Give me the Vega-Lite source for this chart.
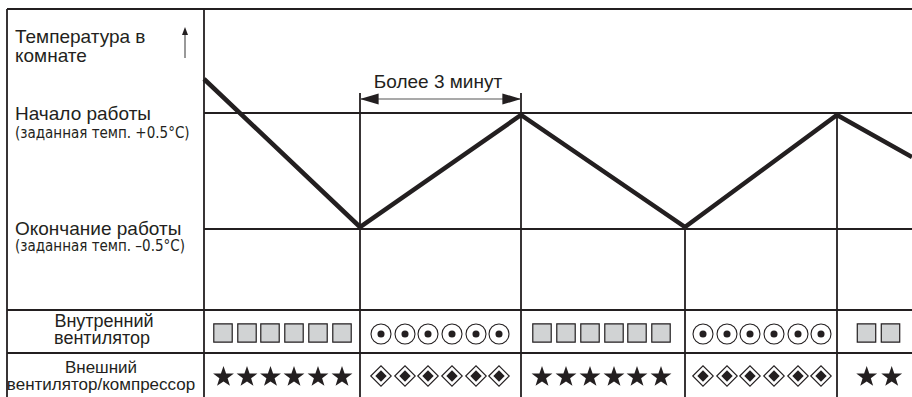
{
  "$schema": "https://vega.github.io/schema/vega-lite/v6.json",
  "width": 912,
  "height": 397,
  "autosize": {"type": "none"},
  "padding": 0,
  "background": "white",
  "config": {"view": {"stroke": null}},
  "datasets": {
    "rules": [
      {"x": 7, "x2": 912, "y": 9, "y2": 9},
      {"x": 7, "x2": 7, "y": 9, "y2": 397},
      {"x": 204, "x2": 204, "y": 9, "y2": 397},
      {"x": 204, "x2": 912, "y": 113, "y2": 113},
      {"x": 204, "x2": 912, "y": 229, "y2": 229},
      {"x": 7, "x2": 912, "y": 310, "y2": 310},
      {"x": 7, "x2": 912, "y": 353, "y2": 353},
      {"x": 360, "x2": 360, "y": 93, "y2": 397},
      {"x": 521, "x2": 521, "y": 93, "y2": 397},
      {"x": 685, "x2": 685, "y": 229, "y2": 397},
      {"x": 837, "x2": 837, "y": 113, "y2": 397}
    ],
    "temp": [
      {"t": 204, "v": 79},
      {"t": 360, "v": 227},
      {"t": 521, "v": 115},
      {"t": 685, "v": 227},
      {"t": 837, "v": 115},
      {"t": 912, "v": 157}
    ],
    "shafts": [
      {"x": 360, "x2": 521, "y": 99, "y2": 99},
      {"x": 185, "x2": 185, "y": 34, "y2": 58}
    ],
    "heads": [
      {"dir": "left", "x": 369.3, "y": 99},
      {"dir": "right", "x": 511.7, "y": 99},
      {"dir": "up", "x": 185, "y": 31}
    ],
    "symbols": [
      {"kind": "square", "x": 223, "y": 333},
      {"kind": "square", "x": 247, "y": 333},
      {"kind": "square", "x": 270, "y": 333},
      {"kind": "square", "x": 294, "y": 333},
      {"kind": "square", "x": 318, "y": 333},
      {"kind": "square", "x": 342, "y": 333},
      {"kind": "circle", "x": 381, "y": 334},
      {"kind": "circle", "x": 405, "y": 334},
      {"kind": "circle", "x": 428, "y": 334},
      {"kind": "circle", "x": 452, "y": 334},
      {"kind": "circle", "x": 476, "y": 334},
      {"kind": "circle", "x": 499, "y": 334},
      {"kind": "square", "x": 542, "y": 333},
      {"kind": "square", "x": 566, "y": 333},
      {"kind": "square", "x": 590, "y": 333},
      {"kind": "square", "x": 614, "y": 333},
      {"kind": "square", "x": 637, "y": 333},
      {"kind": "square", "x": 661, "y": 333},
      {"kind": "circle", "x": 703, "y": 334},
      {"kind": "circle", "x": 727, "y": 334},
      {"kind": "circle", "x": 750, "y": 334},
      {"kind": "circle", "x": 774, "y": 334},
      {"kind": "circle", "x": 798, "y": 334},
      {"kind": "circle", "x": 821, "y": 334},
      {"kind": "square", "x": 866.5, "y": 333},
      {"kind": "square", "x": 890.5, "y": 333},
      {"kind": "star", "x": 223.5, "y": 377},
      {"kind": "star", "x": 247, "y": 377},
      {"kind": "star", "x": 270.5, "y": 377},
      {"kind": "star", "x": 294, "y": 377},
      {"kind": "star", "x": 318, "y": 377},
      {"kind": "star", "x": 342, "y": 377},
      {"kind": "diamond", "x": 381, "y": 376},
      {"kind": "diamond", "x": 405, "y": 376},
      {"kind": "diamond", "x": 428, "y": 376},
      {"kind": "diamond", "x": 452, "y": 376},
      {"kind": "diamond", "x": 476, "y": 376},
      {"kind": "diamond", "x": 499, "y": 376},
      {"kind": "star", "x": 542, "y": 377},
      {"kind": "star", "x": 566, "y": 377},
      {"kind": "star", "x": 590, "y": 377},
      {"kind": "star", "x": 614, "y": 377},
      {"kind": "star", "x": 637, "y": 377},
      {"kind": "star", "x": 661, "y": 377},
      {"kind": "diamond", "x": 703, "y": 376},
      {"kind": "diamond", "x": 727, "y": 376},
      {"kind": "diamond", "x": 750, "y": 376},
      {"kind": "diamond", "x": 774, "y": 376},
      {"kind": "diamond", "x": 798, "y": 376},
      {"kind": "diamond", "x": 821, "y": 376},
      {"kind": "star", "x": 866.7, "y": 377},
      {"kind": "star", "x": 891.7, "y": 377}
    ],
    "labels": [
      {"kind": "big", "x": 15, "y": 43, "text": "Температура в"},
      {"kind": "big", "x": 15, "y": 62, "text": "комнате"},
      {"kind": "big", "x": 15, "y": 120, "text": "Начало работы"},
      {"kind": "small", "x": 15, "y": 138, "text": "(заданная темп. +0.5°C)"},
      {"kind": "big", "x": 15, "y": 235, "text": "Окончание работы"},
      {"kind": "small", "x": 15, "y": 251, "text": "(заданная темп. –0.5°C)"},
      {"kind": "mid", "x": 438, "y": 88, "text": "Более 3 минут"},
      {"kind": "row1", "x": 104, "y": 327, "text": "Внутренний"},
      {"kind": "row1", "x": 102, "y": 344, "text": "вентилятор"},
      {"kind": "row2", "x": 101, "y": 373, "text": "Внешний"},
      {"kind": "row2", "x": 101, "y": 390, "text": "вентилятор/компрессор"}
    ]
  },
  "layer": [
    {
      "data": {"name": "rules"},
      "mark": {"type": "rule", "color": "#231f20", "strokeWidth": 1.8},
      "encoding": {
        "x": {"field": "x", "type": "quantitative", "scale": {"domain": [0, 912], "nice": false, "zero": false}, "axis": null},
        "x2": {"field": "x2"},
        "y": {"field": "y", "type": "quantitative", "scale": {"domain": [397, 0], "nice": false, "zero": false}, "axis": null},
        "y2": {"field": "y2"}
      }
    },
    {
      "data": {"name": "shafts"},
      "mark": {"type": "rule", "color": "#555555", "strokeWidth": 1.2},
      "encoding": {
        "x": {"field": "x", "type": "quantitative"},
        "x2": {"field": "x2"},
        "y": {"field": "y", "type": "quantitative"},
        "y2": {"field": "y2"}
      }
    },
    {
      "data": {"name": "heads"},
      "transform": [{"filter": "datum.dir === 'left'"}],
      "mark": {"type": "point", "filled": true, "color": "#231f20", "opacity": 1, "size": 350, "shape": "M-1,0L1,-0.6L1,0.6Z"},
      "encoding": {
        "x": {"field": "x", "type": "quantitative"},
        "y": {"field": "y", "type": "quantitative"}
      }
    },
    {
      "data": {"name": "heads"},
      "transform": [{"filter": "datum.dir === 'right'"}],
      "mark": {"type": "point", "filled": true, "color": "#231f20", "opacity": 1, "size": 350, "shape": "M1,0L-1,-0.6L-1,0.6Z"},
      "encoding": {
        "x": {"field": "x", "type": "quantitative"},
        "y": {"field": "y", "type": "quantitative"}
      }
    },
    {
      "data": {"name": "heads"},
      "transform": [{"filter": "datum.dir === 'up'"}],
      "mark": {"type": "point", "filled": true, "color": "#231f20", "opacity": 1, "size": 64, "shape": "M0,-1L0.75,1L-0.75,1Z"},
      "encoding": {
        "x": {"field": "x", "type": "quantitative"},
        "y": {"field": "y", "type": "quantitative"}
      }
    },
    {
      "data": {"name": "temp"},
      "mark": {"type": "line", "color": "#231f20", "strokeWidth": 4.5, "strokeJoin": "miter", "strokeCap": "butt", "clip": true},
      "encoding": {
        "x": {"field": "t", "type": "quantitative"},
        "y": {"field": "v", "type": "quantitative"}
      }
    },
    {
      "data": {"name": "symbols"},
      "transform": [{"filter": "datum.kind === 'square'"}],
      "mark": {"type": "point", "shape": "square", "size": 340, "filled": true, "fill": "#d1d3d4", "stroke": "#231f20", "strokeWidth": 1.2, "opacity": 1, "fillOpacity": 1},
      "encoding": {
        "x": {"field": "x", "type": "quantitative"},
        "y": {"field": "y", "type": "quantitative"}
      }
    },
    {
      "data": {"name": "symbols"},
      "transform": [{"filter": "datum.kind === 'circle'"}],
      "mark": {"type": "point", "shape": "circle", "size": 400, "filled": true, "fill": "white", "stroke": "#231f20", "strokeWidth": 1.1, "opacity": 1, "fillOpacity": 1},
      "encoding": {
        "x": {"field": "x", "type": "quantitative"},
        "y": {"field": "y", "type": "quantitative"}
      }
    },
    {
      "data": {"name": "symbols"},
      "transform": [{"filter": "datum.kind === 'circle'"}],
      "mark": {"type": "point", "shape": "circle", "size": 50, "filled": true, "color": "#231f20", "opacity": 1},
      "encoding": {
        "x": {"field": "x", "type": "quantitative"},
        "y": {"field": "y", "type": "quantitative"}
      }
    },
    {
      "data": {"name": "symbols"},
      "transform": [{"filter": "datum.kind === 'star'"}],
      "mark": {"type": "point", "shape": "M0,-1L0.235,-0.309L0.951,-0.309L0.375,0.125L0.588,0.809L0,0.4L-0.588,0.809L-0.375,0.125L-0.951,-0.309L-0.235,-0.309Z", "size": 480, "filled": true, "color": "#231f20", "opacity": 1},
      "encoding": {
        "x": {"field": "x", "type": "quantitative"},
        "y": {"field": "y", "type": "quantitative"}
      }
    },
    {
      "data": {"name": "symbols"},
      "transform": [{"filter": "datum.kind === 'diamond'"}],
      "mark": {"type": "point", "shape": "diamond", "size": 420, "filled": true, "fill": "white", "stroke": "#231f20", "strokeWidth": 1.1, "opacity": 1, "fillOpacity": 1},
      "encoding": {
        "x": {"field": "x", "type": "quantitative"},
        "y": {"field": "y", "type": "quantitative"}
      }
    },
    {
      "data": {"name": "symbols"},
      "transform": [{"filter": "datum.kind === 'diamond'"}],
      "mark": {"type": "point", "shape": "diamond", "size": 130, "filled": true, "color": "#231f20", "opacity": 1},
      "encoding": {
        "x": {"field": "x", "type": "quantitative"},
        "y": {"field": "y", "type": "quantitative"}
      }
    },
    {
      "data": {"name": "labels"},
      "transform": [{"filter": "datum.kind === 'big'"}],
      "mark": {"type": "text", "align": "left", "baseline": "alphabetic", "font": "Liberation Sans", "fontSize": 19, "color": "#231f20"},
      "encoding": {
        "x": {"field": "x", "type": "quantitative"},
        "y": {"field": "y", "type": "quantitative"},
        "text": {"field": "text"}
      }
    },
    {
      "data": {"name": "labels"},
      "transform": [{"filter": "datum.kind === 'small'"}],
      "mark": {"type": "text", "align": "left", "baseline": "alphabetic", "font": "Liberation Sans Narrow, DejaVu Sans Condensed, sans-serif", "fontSize": 15, "color": "#231f20"},
      "encoding": {
        "x": {"field": "x", "type": "quantitative"},
        "y": {"field": "y", "type": "quantitative"},
        "text": {"field": "text"}
      }
    },
    {
      "data": {"name": "labels"},
      "transform": [{"filter": "datum.kind === 'mid'"}],
      "mark": {"type": "text", "align": "center", "baseline": "alphabetic", "font": "Liberation Sans", "fontSize": 19, "color": "#231f20"},
      "encoding": {
        "x": {"field": "x", "type": "quantitative"},
        "y": {"field": "y", "type": "quantitative"},
        "text": {"field": "text"}
      }
    },
    {
      "data": {"name": "labels"},
      "transform": [{"filter": "datum.kind === 'row1'"}],
      "mark": {"type": "text", "align": "center", "baseline": "alphabetic", "font": "Liberation Sans", "fontSize": 18, "color": "#231f20"},
      "encoding": {
        "x": {"field": "x", "type": "quantitative"},
        "y": {"field": "y", "type": "quantitative"},
        "text": {"field": "text"}
      }
    },
    {
      "data": {"name": "labels"},
      "transform": [{"filter": "datum.kind === 'row2'"}],
      "mark": {"type": "text", "align": "center", "baseline": "alphabetic", "font": "Liberation Sans", "fontSize": 17, "color": "#231f20"},
      "encoding": {
        "x": {"field": "x", "type": "quantitative"},
        "y": {"field": "y", "type": "quantitative"},
        "text": {"field": "text"}
      }
    }
  ]
}
